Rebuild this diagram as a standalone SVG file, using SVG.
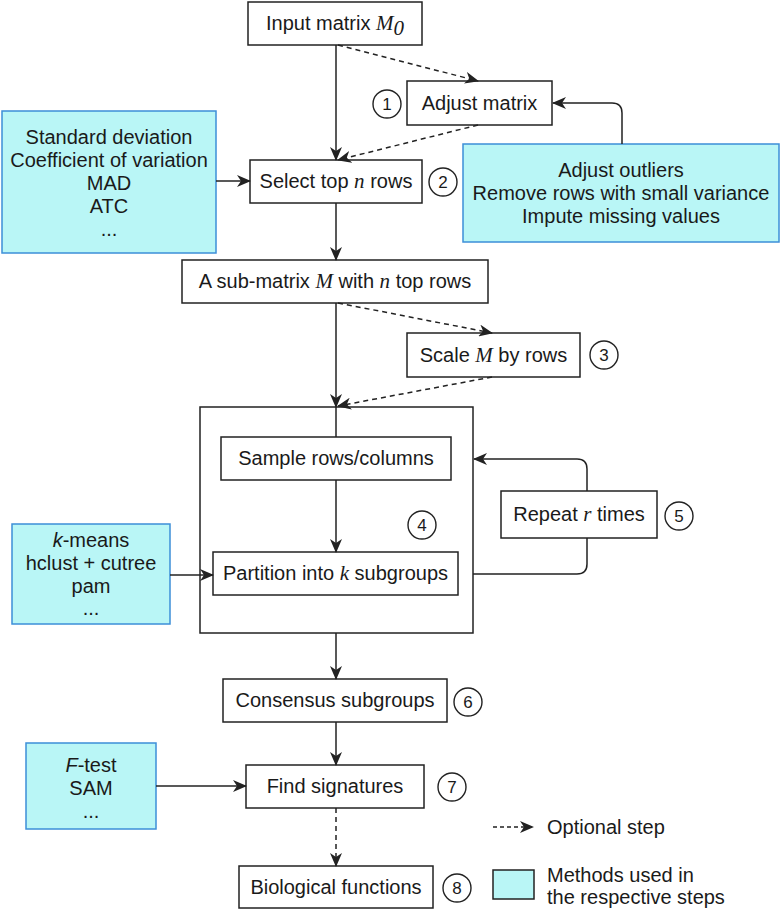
<svg xmlns="http://www.w3.org/2000/svg" width="782" height="910" viewBox="0 0 782 910">
<defs>
<style>
text{font-family:"Liberation Sans",Arial,sans-serif;font-size:20px;fill:#1a1a1a;text-anchor:middle}
.m{font-family:"Liberation Serif","Times New Roman",serif;font-style:italic;font-size:21px}
.it{font-style:italic}
.box{fill:#fff;stroke:#222;stroke-width:1.5}
.cy{fill:#b9f6f6;stroke:#3d8fd8;stroke-width:1.5}
.num circle{fill:#fff;stroke:#222;stroke-width:1.4}
.num text{font-size:17px}
.c{fill:none;stroke:#222;stroke-width:1.5}
.d{stroke-dasharray:5,4}
.l{text-anchor:start}
</style>
<marker id="a" viewBox="0 0 14 12" refX="13" refY="6" markerWidth="14" markerHeight="12" markerUnits="userSpaceOnUse" orient="auto">
<path d="M0,0 L14,6 L0,12 L4,6 z" fill="#222"/>
</marker>
</defs>

<g id="input"><rect class="box" x="248" y="2" width="174" height="43"/><text x="335" y="30">Input matrix <tspan class="m">M</tspan><tspan class="m" font-size="15" dy="5">0</tspan></text></g>
<g id="adjust"><rect class="box" x="407" y="81" width="145" height="44"/><text x="479.5" y="110">Adjust matrix</text></g>
<g id="select"><rect class="box" x="250" y="160" width="172" height="43"/><text x="336" y="188">Select top <tspan class="m">n</tspan> rows</text></g>
<g id="methods-select"><rect class="cy" x="2" y="111" width="214" height="142"/>
<text x="109" y="144">Standard deviation</text><text x="109" y="167">Coefficient of variation</text><text x="109" y="190">MAD</text><text x="109" y="213">ATC</text><text x="109" y="236">...</text></g>
<g id="methods-adjust"><rect class="cy" x="463" y="144" width="316" height="98"/>
<text x="621" y="177">Adjust outliers</text><text x="621" y="200">Remove rows with small variance</text><text x="621" y="223">Impute missing values</text></g>
<g id="submatrix"><rect class="box" x="182" y="260" width="306" height="43"/><text x="335" y="288">A sub-matrix <tspan class="m">M</tspan> with <tspan class="m">n</tspan> top rows</text></g>
<g id="scale"><rect class="box" x="407" y="333" width="173" height="44"/><text x="493.5" y="362">Scale <tspan class="m">M</tspan> by rows</text></g>
<g id="resampling"><rect class="box" x="200" y="407" width="273" height="226"/></g>
<g id="sample"><rect class="box" x="221" y="437" width="230" height="43"/><text x="336" y="465">Sample rows/columns</text></g>
<g id="partition"><rect class="box" x="213" y="552" width="245" height="43"/><text x="335.5" y="580">Partition into <tspan class="m">k</tspan> subgroups</text></g>
<g id="repeat"><rect class="box" x="501" y="491" width="156" height="47"/><text x="579" y="521">Repeat <tspan class="m">r</tspan> times</text></g>
<g id="methods-partition"><rect class="cy" x="12" y="524" width="158" height="100"/>
<text x="91" y="547"><tspan class="it">k</tspan>-means</text><text x="91" y="570">hclust + cutree</text><text x="91" y="593">pam</text><text x="91" y="615">...</text></g>
<g id="consensus"><rect class="box" x="223" y="679" width="224" height="43"/><text x="335" y="707">Consensus subgroups</text></g>
<g id="signatures"><rect class="box" x="246" y="765" width="178" height="43"/><text x="335" y="793">Find signatures</text></g>
<g id="methods-signatures"><rect class="cy" x="26" y="743" width="130" height="86"/>
<text x="91" y="772"><tspan class="it">F</tspan>-test</text><text x="91" y="795">SAM</text><text x="91" y="818">...</text></g>
<g id="biological"><rect class="box" x="239" y="866" width="194" height="42"/><text x="336" y="894">Biological functions</text></g>

<g id="step-numbers" class="num">
<circle cx="387" cy="104" r="14"/><text x="387" y="110">1</text>
<circle cx="443" cy="182" r="14"/><text x="443" y="188">2</text>
<circle cx="604" cy="355" r="14"/><text x="604" y="361">3</text>
<circle cx="422" cy="525" r="14"/><text x="422" y="531">4</text>
<circle cx="679" cy="516" r="14"/><text x="679" y="522">5</text>
<circle cx="468" cy="702" r="14"/><text x="468" y="708">6</text>
<circle cx="452" cy="787" r="14"/><text x="452" y="793">7</text>
<circle cx="457" cy="888" r="14"/><text x="457" y="894">8</text>
</g>

<g id="connectors">
<path class="c" d="M336,45 V160" marker-end="url(#a)"/>
<path class="c d" d="M338,45 L478,81" marker-end="url(#a)"/>
<path class="c d" d="M478,125 L338,160" marker-end="url(#a)"/>
<path class="c" d="M622,144 V113 Q622,103 612,103 H553" marker-end="url(#a)"/>
<path class="c" d="M216,181 H250" marker-end="url(#a)"/>
<path class="c" d="M336,203 V260" marker-end="url(#a)"/>
<path class="c d" d="M338,303 L492,333" marker-end="url(#a)"/>
<path class="c d" d="M492,377 L338,406" marker-end="url(#a)"/>
<path class="c" d="M336,303 V407" marker-end="url(#a)"/>
<path class="c" d="M336,407 V437"/>
<path class="c" d="M336,480 V552" marker-end="url(#a)"/>
<path class="c" d="M170,575 H213" marker-end="url(#a)"/>
<path class="c" d="M473,574 H577 Q587,574 587,564 V538"/>
<path class="c" d="M587,491 V469 Q587,459 577,459 H474" marker-end="url(#a)"/>
<path class="c" d="M336,633 V679" marker-end="url(#a)"/>
<path class="c" d="M336,722 V765" marker-end="url(#a)"/>
<path class="c" d="M156,786 H246" marker-end="url(#a)"/>
<path class="c d" d="M336,808 V866" marker-end="url(#a)"/>
</g>

<g id="legend">
<path class="c" d="M493,827 H533" marker-end="url(#a)" style="stroke-dasharray:4,3"/>
<text class="l" x="547" y="834">Optional step</text>
<rect class="cy" x="493" y="870" width="41" height="29" style="stroke:#222"/>
<text class="l" x="547" y="882">Methods used in</text>
<text class="l" x="547" y="904">the respective steps</text>
</g>
</svg>
